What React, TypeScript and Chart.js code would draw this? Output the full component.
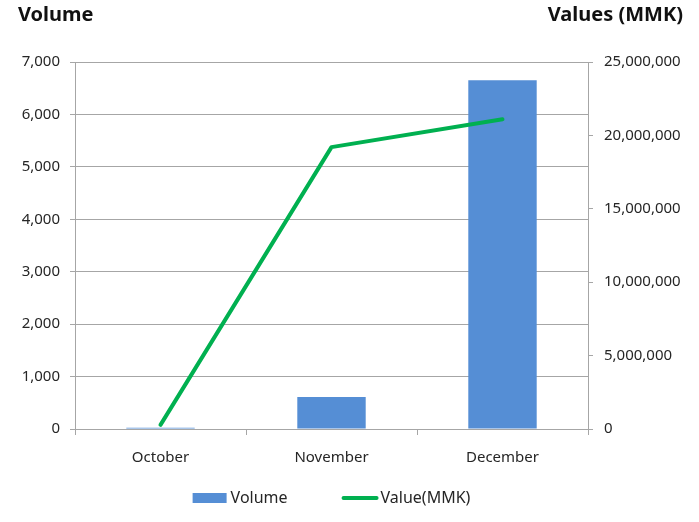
import { useEffect, useRef } from "react";
import { Chart, registerables } from "chart.js";

Chart.register(...registerables);

// Monthly volume (bars, left axis) and value in MMK (line, right axis)
const months = ["October", "November", "December"];
const volume = [25, 610, 6650];
const valueMMK = [280000, 19200000, 21100000];

const volumeAxis = { min: 0, max: 7000, step: 1000 };
const valueAxis = { min: 0, max: 25000000, step: 5000000 };

const leftTitle = "Volume";
const rightTitle = "Values (MMK)";
const seriesLabels = ["Volume", "Value(MMK)"];

const FONT = "'Noto Sans', 'DejaVu Sans', sans-serif";
const TEXT = "#262626";
const GRID = "#a6a6a6";
const BLUE = "#558ed5";
const GREEN = "#00b050";

const fmt = (v: number) => Number(v).toLocaleString("en-US");

// Bold titles above each value axis
const axisTitles = {
  id: "axisTitles",
  afterDraw(chart: any) {
    const ctx = chart.ctx as CanvasRenderingContext2D;
    ctx.save();
    ctx.font = `bold 20px ${FONT}`;
    ctx.fillStyle = "#111";
    ctx.textBaseline = "alphabetic";
    ctx.textAlign = "left";
    ctx.fillText(leftTitle, 18, 21);
    ctx.textAlign = "right";
    ctx.fillText(rightTitle, chart.width - 16, 21);
    ctx.restore();
  },
};

// Legend row under the category axis: box swatch for bars, line swatch for the line
const bottomLegend = {
  id: "bottomLegend",
  afterDraw(chart: any) {
    const ctx = chart.ctx as CanvasRenderingContext2D;
    const area = chart.chartArea;
    const swatch = 34;
    const gap = 4;
    const spacing = 55;
    const y = 497;
    ctx.save();
    ctx.font = `16px ${FONT}`;
    const items = chart.data.datasets.map((ds: any) => ({
      label: ds.label as string,
      isLine: ds.type === "line",
      color: (ds.type === "line" ? ds.borderColor : ds.backgroundColor) as string,
    }));
    const widths = items.map((it: any) => swatch + gap + ctx.measureText(it.label).width);
    const total = widths.reduce((a: number, b: number) => a + b, 0) + spacing * (items.length - 1);
    let x = (area.left + area.right) / 2 - total / 2;
    items.forEach((it: any, i: number) => {
      if (it.isLine) {
        ctx.strokeStyle = it.color;
        ctx.lineWidth = 4;
        ctx.lineCap = "round";
        ctx.beginPath();
        ctx.moveTo(x + 1, y + 1);
        ctx.lineTo(x + swatch, y + 1);
        ctx.stroke();
      } else {
        ctx.fillStyle = it.color;
        ctx.fillRect(x, y - 4, swatch, 10);
      }
      ctx.fillStyle = TEXT;
      ctx.textAlign = "left";
      ctx.textBaseline = "middle";
      ctx.fillText(it.label, x + swatch + gap, y + 1);
      x += widths[i] + spacing;
    });
    ctx.restore();
  },
};

export default function App() {
  const canvasRef = useRef<HTMLCanvasElement | null>(null);

  useEffect(() => {
    const canvas = canvasRef.current;
    if (!canvas) return;
    const chart = new Chart(canvas, {
      type: "bar",
      data: {
        labels: months,
        datasets: [
          {
            type: "bar",
            label: seriesLabels[0],
            data: volume,
            yAxisID: "y",
            backgroundColor: BLUE,
            borderWidth: 0,
            categoryPercentage: 1,
            barPercentage: 0.4,
            order: 1,
          } as any,
          {
            type: "line",
            label: seriesLabels[1],
            data: valueMMK,
            yAxisID: "y1",
            borderColor: GREEN,
            backgroundColor: GREEN,
            borderWidth: 4,
            borderCapStyle: "round",
            borderJoinStyle: "round",
            pointRadius: 0,
            tension: 0,
            order: 0,
          } as any,
        ],
      },
      options: {
        responsive: false,
        animation: false,
        layout: { padding: { top: 62, left: 0, right: 0, bottom: 0 } },
        plugins: {
          legend: { display: false },
          tooltip: { enabled: false },
          title: { display: false },
        },
        scales: {
          x: {
            offset: true,
            grid: {
              offset: true,
              drawOnChartArea: false,
              drawTicks: true,
              tickLength: 6,
              color: GRID,
            },
            border: { display: true, color: GRID },
            ticks: {
              color: TEXT,
              font: { family: FONT, size: 15 },
              padding: 14,
              maxRotation: 0,
            },
            afterFit(scale: any) {
              scale.height = 93;
            },
          },
          y: {
            position: "left",
            min: volumeAxis.min,
            max: volumeAxis.max,
            grid: { color: GRID, tickLength: 5, drawTicks: true },
            border: { display: true, color: GRID },
            ticks: {
              stepSize: volumeAxis.step,
              color: TEXT,
              font: { family: FONT, size: 15 },
              padding: 10,
              callback: (v: any) => fmt(v),
            },
            afterFit(scale: any) {
              scale.width = 75;
            },
          },
          y1: {
            position: "right",
            min: valueAxis.min,
            max: valueAxis.max,
            grid: { drawOnChartArea: false, color: GRID, tickLength: 5 },
            border: { display: true, color: GRID },
            ticks: {
              stepSize: valueAxis.step,
              color: TEXT,
              font: { family: FONT, size: 15 },
              padding: 11,
              callback: (v: any) => fmt(v),
            },
            afterFit(scale: any) {
              scale.width = 111;
            },
          },
        },
      },
      plugins: [axisTitles, bottomLegend],
    });
    return () => chart.destroy();
  }, []);

  return (
    <div style={{ position: "absolute", left: 0, top: 0, width: 699, height: 522, background: "#fff" }}>
      <canvas ref={canvasRef} width={699} height={522} style={{ display: "block" }} />
    </div>
  );
}
